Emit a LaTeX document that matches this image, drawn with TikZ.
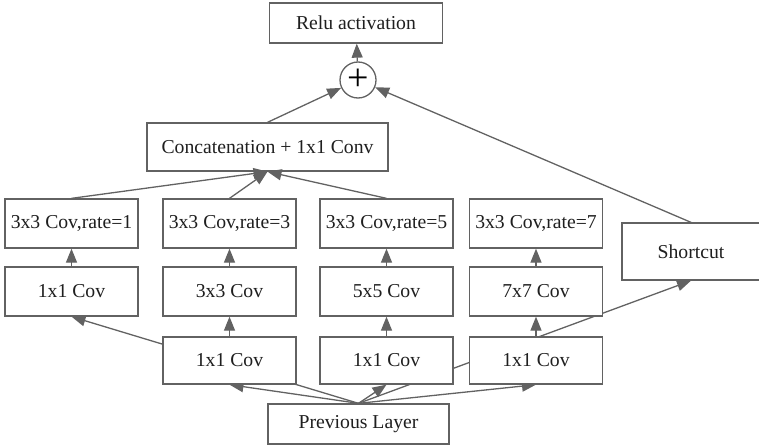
\documentclass[tikz,border=0pt]{standalone}
\usepackage{fontspec}
\setmainfont{Liberation Serif}
\usetikzlibrary{arrows.meta,backgrounds}
\definecolor{linegray}{RGB}{98,98,98}
\tikzset{
	blk/.style={draw=linegray, fill=white, line width=1.3pt, minimum width=133pt, minimum height=49pt, inner sep=0pt, text=black!88},
	arr/.style={draw=linegray, line width=1.3pt, -{Triangle[length=14pt,width=11pt]}},
}
\begin{document}
\begin{tikzpicture}[x=1pt,y=-1pt,font=\fontsize{19.7}{23}\selectfont]
	\useasboundingbox (0,0) rectangle (759,447);
	% output side
	\node[blk, minimum width=173pt, minimum height=40pt] (relu) at (356,23) {Relu activation};
	\node[circle, draw=linegray, fill=white, line width=1.3pt, minimum size=36pt, inner sep=0pt] (sum) at (358,80) {\fontsize{38}{38}\selectfont\raisebox{-1pt}{+}};
	\node[blk, minimum width=241pt, minimum height=48pt] (concat) at (267.5,147) {Concatenation + 1x1 Conv};
	% dilated 3x3 row
	\node[blk] (d1) at (71.5,223.5) {3x3 Cov,rate=1};
	\node[blk] (d3) at (229.5,223.5) {3x3 Cov,rate=3};
	\node[blk] (d5) at (386.5,223.5) {3x3 Cov,rate=5};
	\node[blk] (d7) at (536,223.5) {3x3 Cov,rate=7};
	% kxk row
	\node[blk] (k1) at (71.5,291.5) {1x1 Cov};
	\node[blk] (k3) at (229.5,291.5) {3x3 Cov};
	\node[blk] (k5) at (386.5,291.5) {5x5 Cov};
	\node[blk] (k7) at (536,291.5) {7x7 Cov};
	% 1x1 reduction row
	\node[blk, minimum height=47pt] (r3) at (229.5,360.5) {1x1 Cov};
	\node[blk, minimum height=47pt] (r5) at (386.5,360.5) {1x1 Cov};
	\node[blk, minimum height=47pt] (r7) at (536,360.5) {1x1 Cov};
	\node[blk, minimum width=181pt, minimum height=40pt] (prev) at (358.5,424) {Previous Layer};
	\node[blk, minimum width=138pt, minimum height=57pt] (short) at (691,251.5) {Shortcut};

	\begin{scope}[on background layer]
		% from the previous layer
		\draw[arr] (prev.north) -- (k1.south);
		\draw[arr] (prev.north) -- (r3.south);
		\draw[arr] (prev.north) -- (r5.south);
		\draw[arr] (prev.north) -- (r7.south);
		\draw[arr] (prev.north) -- (short.south);
	\end{scope}
	\draw[arr] (r3.north) -- (k3.south);
	\draw[arr] (r5.north) -- (k5.south);
	\draw[arr] (r7.north) -- (k7.south);
	\foreach \c in {1,3,5,7}
		\draw[arr] (k\c.north) -- (d\c.south);
	\draw[arr] (d1.north) -- (concat.south);
	\draw[arr] (d3.north) -- (concat.south);
	\draw[arr] (d5.north) -- (concat.south);
	\draw[arr] (concat.north) -- (sum);
	\draw[arr] (short.north) -- (sum);
	\draw[arr] (sum) -- (relu);
\end{tikzpicture}
\end{document}
